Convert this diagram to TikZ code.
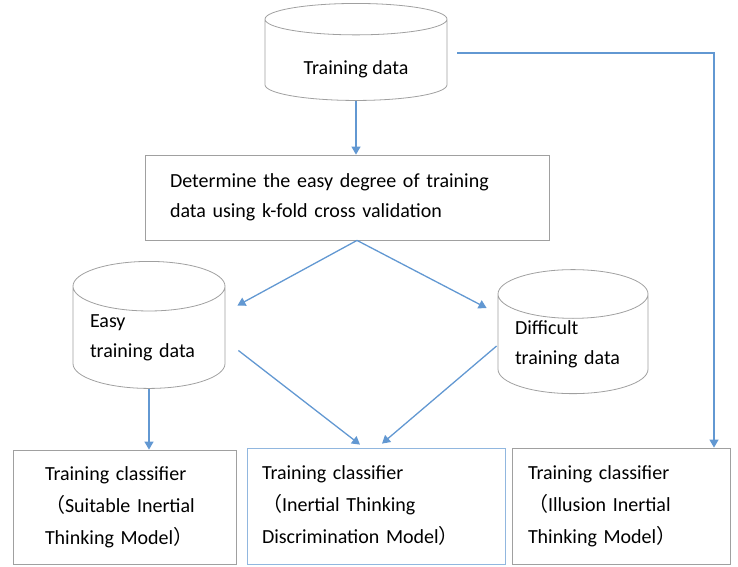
\documentclass[tikz,border=0pt]{standalone}
\usepackage{fontspec}
\setmainfont{Carlito}
\newfontfamily\cjk{Noto Sans CJK SC}
\usetikzlibrary{shapes.geometric}
\usetikzlibrary{arrows.meta}
\definecolor{lineblue}{RGB}{98,152,210}
\definecolor{boxgray}{RGB}{160,160,160}
\newcommand{\lpar}{{\cjk （}}
\newcommand{\rpar}{{\cjk ）}}

\begin{document}
\begin{tikzpicture}[x=1pt,y=-1pt,
  every node/.style={font=\fontsize{20}{30}\selectfont},
  db/.style={draw=boxgray,line width=0.8pt,cylinder,shape border rotate=90,aspect=0.3,inner sep=0pt,align=left},
  box/.style={draw=boxgray,line width=0.8pt,rectangle,align=left,inner ysep=0pt},
  arr/.style={lineblue,line width=1.3pt,-{Triangle[width=9pt,length=8pt]}}]
\useasboundingbox (0,0) rectangle (738,566);
\node[db,minimum width=182,minimum height=97,text height=29pt,text depth=0pt] (0) at (356,60) {Training data};
\node[box,minimum height=85,text width=354,inner xsep=25] (1) at (347,197.5) {Determine the easy degree of training\\data using k-fold cross validation};
\node[db,aspect=0.42,minimum width=152,minimum height=127,text width=118] (2) at (149,337.5) {Easy\\training data};
\node[db,aspect=0.42,minimum width=150,minimum height=124,text width=116] (3) at (573,344) {Difficult\\training data};
\node[box,minimum height=114,text width=159,inner xsep=32,font=\fontsize{20}{32}\selectfont] (4) at (124.5,507) {Training classifier\\\lpar Suitable Inertial\\Thinking Model\rpar};
\node[box,draw=lineblue!70,minimum height=116,text width=228,inner xsep=15,font=\fontsize{20}{32}\selectfont] (5) at (376,506) {Training classifier\\\lpar Inertial Thinking\\Discrimination Model\rpar};
\node[box,minimum height=116,text width=186,inner xsep=16,font=\fontsize{20}{32}\selectfont] (6) at (621,506) {Training classifier\\\lpar Illusion Inertial\\Thinking Model\rpar};
\draw[arr] (0.south) -- (0.south |- 1.north);
\draw[arr] ([xshift=10pt]1.south) -- ([shift={(12,-32)}]2.east);
\draw[arr] ([xshift=10pt]1.south) -- ([shift={(-11,-36)}]3.west);
\draw[arr] (2.south) -- (2.south |- 4.north);
\draw[arr] ([shift={(13,13)}]2.east) -- ([shift={(-16,-3)}]5.north);
\draw[arr] ([shift={(-1,2)}]3.west) -- ([shift={(6,-4)}]5.north);
\draw[arr] ([shift={(10,-7)}]0.east) -| ([xshift=93pt]6.north);
\end{tikzpicture}
\end{document}
